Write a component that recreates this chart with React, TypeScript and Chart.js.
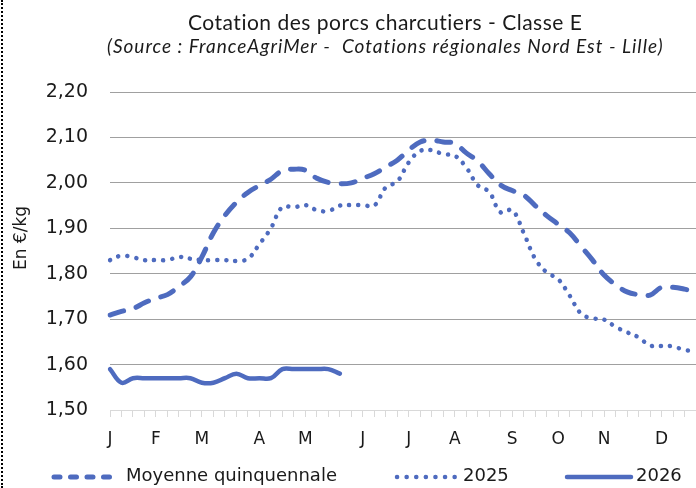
import React, { useEffect, useRef } from 'react';
import { Chart, registerables } from 'chart.js';

Chart.register(...registerables);

// ---- Data ----
const weeks = Array.from({ length: 52 }, (_, i) => `S${i + 1}`);
const monthLabels = ['J', 'F', 'M', 'A', 'M', 'J', 'J', 'A', 'S', 'O', 'N', 'D'];
const monthStartWeeks = [0, 4, 8, 13, 17, 22, 26, 30, 35, 39, 43, 48];

const moyenneQuinquennale = [
  1.709, 1.717, 1.723, 1.736, 1.746, 1.754, 1.772, 1.793, 1.837, 1.89,
  1.928, 1.957, 1.979, 1.994, 2.008, 2.027, 2.03, 2.028, 2.01, 2.001,
  1.998, 2.0, 2.01, 2.02, 2.035, 2.05, 2.072, 2.09, 2.094, 2.09,
  2.087, 2.066, 2.048, 2.02, 1.995, 1.983, 1.973, 1.95, 1.928, 1.909,
  1.89, 1.86, 1.83, 1.797, 1.776, 1.76, 1.754, 1.753, 1.77, 1.77,
  1.766, 1.76,
];

const cotation2025 = [
  1.83, 1.84, 1.836, 1.83, 1.83, 1.83, 1.837, 1.833, 1.83, 1.83,
  1.83, 1.828, 1.833, 1.865, 1.9, 1.947, 1.946, 1.951, 1.94, 1.938,
  1.95, 1.951, 1.951, 1.95, 1.99, 2.003, 2.045, 2.07, 2.072, 2.063,
  2.06, 2.034, 1.995, 1.98, 1.935, 1.94, 1.89, 1.833, 1.803, 1.788,
  1.752, 1.712, 1.702, 1.699, 1.683, 1.671, 1.66, 1.642, 1.641, 1.64,
  1.632, 1.63,
];

const cotation2026 = [
  1.59, 1.56, 1.57, 1.57, 1.57, 1.57, 1.57, 1.57, 1.56, 1.56,
  1.57, 1.58, 1.57, 1.57, 1.57, 1.59, 1.59, 1.59, 1.59, 1.59,
  1.58,
];

const seriesNames = ['Moyenne quinquennale', '2025', '2026'];
const yMin = 1.5;
const yMax = 2.2;
const yStep = 0.1;

const titleText = 'Cotation des porcs charcutiers - Classe E';
const subtitleText = '(Source : FranceAgriMer -  Cotations régionales Nord Est - Lille)';
const yTitleText = 'En €/kg';

const BLUE = '#4E6BBF';
const TEXT = '#1a1a1a';

const decorPlugin = {
  id: 'decor',
  afterDraw(chart: any) {
    const ctx = chart.ctx as any;
    ctx.save();
    ctx.fillStyle = TEXT;
    ctx.textAlign = 'left';
    ctx.textBaseline = 'alphabetic';

    ctx.font = '21px Lato';
    ctx.letterSpacing = '0.5px';
    ctx.fillText(titleText, 188, 30);

    ctx.font = 'italic 19px Lato';
    ctx.letterSpacing = '1px';
    ctx.fillText(subtitleText, 107, 53);
    ctx.letterSpacing = '0px';

    // y title
    ctx.save();
    ctx.translate(22, 238);
    ctx.rotate(-Math.PI / 2);
    ctx.textAlign = 'center';
    ctx.textBaseline = 'middle';
    ctx.font = '17px "DejaVu Sans"';
    ctx.fillText(yTitleText, 0, 0);
    ctx.restore();

    // legend
    const items = [
      { x0: 54, x1: 118, tx: 126, dash: [6, 10.5], width: 5 },
      { x0: 397, x1: 458, tx: 463, dash: [0.1, 9.5], width: 4.5 },
      { x0: 567, x1: 631, tx: 636, dash: [], width: 4.5 },
    ];
    const ly = 477;
    items.forEach((it, i) => {
      ctx.save();
      ctx.strokeStyle = BLUE;
      ctx.lineWidth = it.width;
      ctx.lineCap = 'round';
      ctx.setLineDash(it.dash);
      ctx.beginPath();
      ctx.moveTo(it.x0, ly);
      ctx.lineTo(it.x1, ly);
      ctx.stroke();
      ctx.restore();
      ctx.fillStyle = TEXT;
      ctx.textAlign = 'left';
      ctx.textBaseline = 'middle';
      ctx.font = '18px "DejaVu Sans"';
      ctx.fillText(chart.data.datasets[i].label, it.tx, ly - 1);
    });
    ctx.restore();
  },
};

export default function App() {
  const canvasRef = useRef<HTMLCanvasElement | null>(null);

  useEffect(() => {
    if (!canvasRef.current) return;
    Chart.defaults.font.family = '"DejaVu Sans", sans-serif';
    const chart = new Chart(canvasRef.current, {
      type: 'line',
      data: {
        labels: weeks,
        datasets: [
          {
            label: seriesNames[0],
            data: moyenneQuinquennale,
            borderColor: BLUE,
            borderWidth: 5,
            borderDash: [14, 13],
            borderCapStyle: 'round',
            pointRadius: 0,
            tension: 0.4,
            fill: false,
          },
          {
            label: seriesNames[1],
            data: cotation2025,
            borderColor: BLUE,
            borderWidth: 4.5,
            borderDash: [0.1, 9],
            borderCapStyle: 'round',
            pointRadius: 0,
            tension: 0.4,
            fill: false,
          },
          {
            label: seriesNames[2],
            data: cotation2026,
            borderColor: BLUE,
            borderWidth: 4.5,
            borderCapStyle: 'round',
            pointRadius: 0,
            tension: 0.4,
            fill: false,
          },
        ],
      },
      options: {
        responsive: false,
        animation: false,
        layout: { padding: { top: 92, left: 0, right: 0, bottom: 0 } },
        plugins: {
          legend: { display: false },
          title: { display: false },
          tooltip: { enabled: false },
        },
        scales: {
          x: {
            type: 'category',
            offset: false,
            afterFit: (s: any) => {
              s.height = 78;
              s.paddingRight = 0;
              s.paddingLeft = 0;
            },
            grid: {
              drawOnChartArea: false,
              drawTicks: true,
              tickLength: 7,
              color: '#d9d9d9',
              offset: false,
            },
            border: { display: true, color: '#d9d9d9', width: 1 },
            ticks: {
              autoSkip: false,
              maxRotation: 0,
              minRotation: 0,
              padding: 12,
              color: TEXT,
              font: { size: 17 },
              callback: (_v: any, idx: number) => {
                const m = monthStartWeeks.indexOf(idx);
                return m >= 0 ? monthLabels[m] : '';
              },
            },
          },
          y: {
            min: yMin,
            max: yMax,
            afterFit: (s: any) => {
              s.width = 110;
            },
            grid: {
              drawTicks: false,
              color: (c: any) => (c.index === 0 ? 'rgba(0,0,0,0)' : '#a0a0a0'),
              lineWidth: 1,
            },
            border: { display: false },
            ticks: {
              stepSize: yStep,
              padding: 22,
              color: TEXT,
              font: { size: 19 },
              callback: (v: any) => Number(v).toFixed(2).replace('.', ','),
            },
          },
        },
      },
      plugins: [decorPlugin],
    });
    return () => chart.destroy();
  }, []);

  return (
    <div
      style={{
        position: 'absolute',
        left: 0,
        top: 0,
        width: 696,
        height: 488,
        background: '#fff',
        overflow: 'hidden',
      }}
    >
      <div
        style={{
          position: 'absolute',
          left: 1,
          top: 0,
          height: 488,
          borderLeft: '2px dotted #000',
        }}
      />
      <canvas ref={canvasRef} width={696} height={488} style={{ display: 'block' }} />
    </div>
  );
}
